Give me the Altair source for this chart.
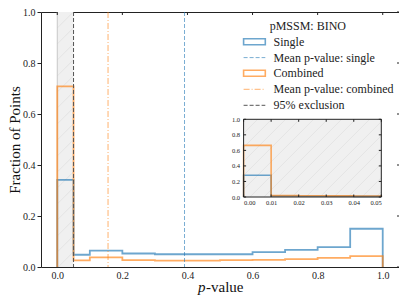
import altair as alt
import pandas as pd

# ---------------- data ----------------
edges = [0.0, 0.05, 0.1, 0.2, 0.3, 0.4, 0.5, 0.6, 0.7, 0.8, 0.9, 1.0]
single = [0.342, 0.048, 0.064, 0.053, 0.050, 0.050, 0.050, 0.058, 0.067, 0.078, 0.150]
combined = [0.708, 0.026, 0.038, 0.027, 0.025, 0.025, 0.027, 0.028, 0.031, 0.036, 0.043]

inset_edges = [0.0, 0.01, 0.02, 0.03, 0.04, 0.05]
inset_single = [0.280, 0.012, 0.010, 0.010, 0.008]
inset_combined = [0.665, 0.018, 0.016, 0.014, 0.012]

mean_single = 0.391
mean_combined = 0.156
exclusion = 0.05

xticks = [0.0, 0.2, 0.4, 0.6, 0.8, 1.0]
yticks = [0.0, 0.2, 0.4, 0.6, 0.8, 1.0]
inset_xticks = [0.0, 0.01, 0.02, 0.03, 0.04, 0.05]
inset_yticks = [0.0, 0.2, 0.4, 0.6, 0.8, 1.0]

legend_title = "pMSSM: BINO"
legend_labels = ["Single", "Mean p-value: single", "Combined",
                 "Mean p-value: combined", "95% exclusion"]

# ---------------- style / layout ----------------
FONT = "Liberation Serif"
BLUE = "#1f77b4"
ORANGE = "#ff7f0e"
W, H = 358, 255
INSET_X = [202.6, 340.3]
INSET_Y = [185.0, 107.3]
XDOM = [-0.05, 1.05]


def step_frame(edges, vals, series, xname="x", yname="y"):
    rows = []
    o = 0
    rows.append({xname: edges[0], yname: 0.0, "s": series, "o": o}); o += 1
    for i, v in enumerate(vals):
        rows.append({xname: edges[i], yname: v, "s": series, "o": o}); o += 1
        rows.append({xname: edges[i + 1], yname: v, "s": series, "o": o}); o += 1
    rows.append({xname: edges[-1], yname: 0.0, "s": series, "o": o})
    return pd.DataFrame(rows)


def hatch_frame(xl, xr, yb, yt, spacing):
    """diagonal '/' hatch texture (pixel space) clipped to a box"""
    h = yb - yt
    rows = []
    x0 = xl - h
    while x0 < xr:
        t0 = max(0.0, xl - x0)
        t1 = min(h, xr - x0)
        if t1 > t0:
            rows.append({"px": x0 + t0, "py": yb - t0, "px2": x0 + t1, "py2": yb - t1})
        x0 += spacing
    return pd.DataFrame(rows)


def hatch_layer(df):
    return alt.Chart(df).mark_rule(color="#dedede", strokeWidth=0.7).encode(
        x=alt.X("px:Q", scale=None), y=alt.Y("py:Q", scale=None),
        x2="px2:Q", y2="py2:Q")


xscale = alt.Scale(domain=XDOM, nice=False, zero=False)
yscale = alt.Scale(domain=[0, 1], nice=False, zero=True)

# main axes carried by shaded rect layer
shade_df = pd.DataFrame({"x": [0.0], "x2": [exclusion], "y": [0.0], "y2": [1.0]})
shade = alt.Chart(shade_df).mark_rect(fill="#f0f0f0", stroke=None).encode(
    x=alt.X("x:Q", scale=xscale,
            axis=alt.Axis(values=xticks, format=".1f", title=None, domain=False,
                          grid=False, ticks=False, labelPadding=3,
                          labelFontSize=10, labelFont=FONT, labelColor="#222")),
    x2="x2:Q",
    y=alt.Y("y:Q", scale=yscale,
            axis=alt.Axis(values=yticks, format=".1f", title="Fraction of Points",
                          domain=False, grid=False, tickSize=4, tickColor="#222",
                          labelPadding=2, labelFontSize=10, labelFont=FONT,
                          labelColor="#222", titleFont=FONT, titleFontSize=15,
                          titleFontWeight="normal", titlePadding=0,
                          titleColor="#111")),
    y2="y2:Q",
)
px = lambda v: (v - XDOM[0]) / (XDOM[1] - XDOM[0]) * W
main_hatch = hatch_layer(hatch_frame(px(0.0), px(exclusion), H, 0, 16))
shade_edge = alt.Chart(shade_df).mark_rule(color="#c8c8c8", strokeWidth=1).encode(
    x=alt.X("x:Q", scale=xscale), y=alt.Y("y:Q", scale=yscale), y2="y2:Q")

hist_df = pd.concat([step_frame(edges, single, "Single"),
                     step_frame(edges, combined, "Combined")])
hist = alt.Chart(hist_df).mark_line(strokeWidth=1.8, opacity=0.65, interpolate="linear").encode(
    x=alt.X("x:Q", scale=xscale),
    y=alt.Y("y:Q", scale=yscale),
    color=alt.Color("s:N", scale=alt.Scale(domain=["Single", "Combined"], range=[BLUE, ORANGE]),
                    legend=None),
    detail="s:N",
    order="o:Q",
)

vl_df = pd.DataFrame({"x": [mean_single, mean_combined, exclusion],
                      "k": ["ms", "mc", "ex"]})
mean_s = alt.Chart(vl_df[vl_df.k == "ms"]).mark_rule(color=BLUE, opacity=0.6, strokeWidth=1,
                                                     strokeDash=[4, 2]).encode(
    x=alt.X("x:Q", scale=xscale))
mean_c = alt.Chart(vl_df[vl_df.k == "mc"]).mark_rule(color=ORANGE, opacity=0.6, strokeWidth=1,
                                                     strokeDash=[6, 2, 1, 2]).encode(
    x=alt.X("x:Q", scale=xscale))
excl = alt.Chart(vl_df[vl_df.k == "ex"]).mark_rule(color="#555", strokeWidth=1,
                                                   strokeDash=[4, 2]).encode(
    x=alt.X("x:Q", scale=xscale))

# mirrored ticks
top_ticks = alt.Chart(pd.DataFrame({"x": xticks})).mark_rule(color="#222").encode(
    x=alt.X("x:Q", scale=xscale), y=alt.value(0), y2=alt.value(3))
right_ticks = alt.Chart(pd.DataFrame({"y": yticks})).mark_rule(color="#222").encode(
    y=alt.Y("y:Q", scale=yscale), x=alt.value(W - 2), x2=alt.value(W + 4))

# x title: italic p + "-value"
one = pd.DataFrame({"a": [0]})
xt_p = alt.Chart(one).mark_text(text="p", font=FONT, fontSize=15, fontStyle="italic",
                                align="right", baseline="alphabetic", color="#111").encode(
    x=alt.value(164.5), y=alt.value(280))
xt_v = alt.Chart(one).mark_text(text="-value", font=FONT, fontSize=15,
                                align="left", baseline="alphabetic", color="#111").encode(
    x=alt.value(165), y=alt.value(280))

# legend
LFS = 12
leg_layers = []
leg_layers.append(alt.Chart(one).mark_text(text=legend_title, font=FONT, fontSize=LFS,
                                           align="center", baseline="middle", color="#222").encode(
    x=alt.value(266.8), y=alt.value(13.5)))
ys = [29.8, 45.6, 61.3, 77.3, 93.3]
sx0, sx1, tx = 202.6, 224.3, 232.6
leg_layers.append(alt.Chart(one).mark_rect(fill=None, stroke=BLUE, strokeOpacity=0.65, strokeWidth=1.6).encode(
    x=alt.value(sx0), x2=alt.value(sx1), y=alt.value(ys[0] - 3), y2=alt.value(ys[0] + 3)))
leg_layers.append(alt.Chart(one).mark_rule(color=BLUE, opacity=0.6, strokeDash=[4, 2]).encode(
    x=alt.value(sx0), x2=alt.value(sx1), y=alt.value(ys[1])))
leg_layers.append(alt.Chart(one).mark_rect(fill=None, stroke=ORANGE, strokeOpacity=0.65, strokeWidth=1.6).encode(
    x=alt.value(sx0), x2=alt.value(sx1), y=alt.value(ys[2] - 3), y2=alt.value(ys[2] + 3)))
leg_layers.append(alt.Chart(one).mark_rule(color=ORANGE, opacity=0.6, strokeDash=[6, 2, 1, 2]).encode(
    x=alt.value(sx0), x2=alt.value(sx1), y=alt.value(ys[3])))
leg_layers.append(alt.Chart(one).mark_rule(color="#555", strokeDash=[4, 2]).encode(
    x=alt.value(sx0), x2=alt.value(sx1), y=alt.value(ys[4])))
for lab, yy in zip(legend_labels, ys):
    leg_layers.append(alt.Chart(one).mark_text(text=lab, font=FONT, fontSize=LFS, align="left",
                                               baseline="middle", color="#222").encode(
        x=alt.value(tx), y=alt.value(yy)))

main = alt.layer(shade, main_hatch, shade_edge, hist, mean_s, mean_c, excl, top_ticks,
                 right_ticks, xt_p, xt_v, *leg_layers)

# ---------------- inset ----------------
ixscale = alt.Scale(domain=[0, 0.05], range=INSET_X, nice=False, zero=False)
iyscale = alt.Scale(domain=[0, 1], range=INSET_Y, nice=False, zero=True)
ibg_df = pd.DataFrame({"ix": [0.0], "ix2": [0.05], "iy": [0.0], "iy2": [1.0]})
ibg = alt.Chart(ibg_df).mark_rect(fill="#f0f0f0").encode(
    x=alt.X("ix:Q", scale=ixscale,
            axis=alt.Axis(orient="bottom", offset=-(H - INSET_Y[0]), values=inset_xticks,
                          format=".2f", title=None, domain=False, grid=False, ticks=False,
                          labelPadding=2, labelFontSize=6.5, labelFont=FONT, labelColor="#222")),
    x2="ix2:Q",
    y=alt.Y("iy:Q", scale=iyscale,
            axis=alt.Axis(orient="left", offset=-INSET_X[0], values=inset_yticks,
                          format=".1f", title=None, domain=False, grid=False, ticks=False,
                          labelPadding=4, labelFontSize=6.5, labelFont=FONT, labelColor="#222")),
    y2="iy2:Q",
)
inset_hatch = hatch_layer(hatch_frame(INSET_X[0], INSET_X[1], INSET_Y[0], INSET_Y[1], 14))
iframe = alt.Chart(ibg_df).mark_rect(fill=None, stroke="#222", strokeWidth=1).encode(
    x=alt.X("ix:Q", scale=ixscale), x2="ix2:Q",
    y=alt.Y("iy:Q", scale=iyscale), y2="iy2:Q")
ihist_df = pd.concat([step_frame(inset_edges, inset_single, "Single", "ix", "iy"),
                      step_frame(inset_edges, inset_combined, "Combined", "ix", "iy")])
ihist = alt.Chart(ihist_df).mark_line(strokeWidth=1.6, opacity=0.65).encode(
    x=alt.X("ix:Q", scale=ixscale),
    y=alt.Y("iy:Q", scale=iyscale),
    color=alt.Color("s:N", scale=alt.Scale(domain=["Single", "Combined"], range=[BLUE, ORANGE]),
                    legend=None),
    detail="s:N",
    order="o:Q",
)
ixt = pd.DataFrame({"ix": inset_xticks})
iyt = pd.DataFrame({"iy": inset_yticks})
itick_b = alt.Chart(ixt).mark_rule(color="#222").encode(
    x=alt.X("ix:Q", scale=ixscale), y=alt.value(INSET_Y[0]), y2=alt.value(INSET_Y[0] - 2.5))
itick_t = alt.Chart(ixt).mark_rule(color="#222").encode(
    x=alt.X("ix:Q", scale=ixscale), y=alt.value(INSET_Y[1]), y2=alt.value(INSET_Y[1] + 2.5))
itick_l = alt.Chart(iyt).mark_rule(color="#222").encode(
    y=alt.Y("iy:Q", scale=iyscale), x=alt.value(INSET_X[0]), x2=alt.value(INSET_X[0] + 2.5))
itick_r = alt.Chart(iyt).mark_rule(color="#222").encode(
    y=alt.Y("iy:Q", scale=iyscale), x=alt.value(INSET_X[1]), x2=alt.value(INSET_X[1] - 2.5))

inset = alt.layer(ibg, inset_hatch, ihist, iframe, itick_b, itick_t, itick_l, itick_r)

chart = alt.layer(main, inset).resolve_scale(
    x="independent", y="independent", color="independent"
).properties(
    width=W, height=H,
    autosize=alt.AutoSizeParams(type="none"),
    padding={"left": 33, "top": 4, "right": 0, "bottom": 30},
).configure(font=FONT).configure_view(stroke="#222", strokeWidth=1)

chart.save("out.html", embed_options={"renderer": "svg", "actions": False})
